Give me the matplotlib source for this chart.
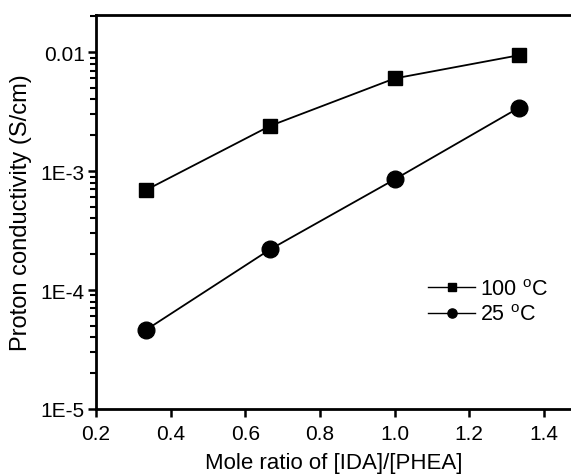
import matplotlib
matplotlib.use("Agg")
import matplotlib.pyplot as plt
from matplotlib.ticker import FixedLocator, FixedFormatter, LogLocator, NullFormatter

plt.rcParams['font.family'] = ['Liberation Sans', 'DejaVu Sans']
plt.rcParams['mathtext.fontset'] = 'custom'
plt.rcParams['mathtext.rm'] = 'Liberation Sans'

mole_ratio = [0.333, 0.667, 1.0, 1.333]
cond_100 = [6.9e-4, 2.4e-3, 6.0e-3, 9.4e-3]
cond_25 = [4.6e-5, 2.2e-4, 8.5e-4, 3.4e-3]

x_ticks = [0.2, 0.4, 0.6, 0.8, 1.0, 1.2, 1.4]
y_ticks = [1e-5, 1e-4, 1e-3, 1e-2]
y_labels = ['1E-5', '1E-4', '1E-3', '0.01']

fig = plt.figure(figsize=(5.71, 4.77), dpi=100)
ax = fig.add_axes([96 / 571, 1 - 410 / 477, (571 - 96) / 571, (410 - 16) / 477])

ax.plot(mole_ratio, cond_100, '-s', color='black', lw=1.3, ms=10, label='100 $^{\\rm o}$C')
ax.plot(mole_ratio, cond_25, '-o', color='black', lw=1.3, ms=12, label='25 $^{\\rm o}$C')

ax.set_yscale('log')
ax.set_xlim(0.2, 1.473)
ax.set_ylim(1e-5, 0.0205)

ax.xaxis.set_major_locator(FixedLocator(x_ticks))
ax.set_xticklabels(['%.1f' % v for v in x_ticks])
ax.yaxis.set_major_locator(FixedLocator(y_ticks))
ax.yaxis.set_major_formatter(FixedFormatter(y_labels))
ax.yaxis.set_minor_locator(LogLocator(base=10, subs=range(2, 10)))
ax.yaxis.set_minor_formatter(NullFormatter())

for side in ['left', 'bottom', 'top']:
    ax.spines[side].set_linewidth(2)
ax.spines['right'].set_visible(False)

ax.tick_params(axis='both', which='major', direction='out', width=1.8, length=6, labelsize=15)
ax.tick_params(axis='y', which='minor', direction='out', width=1.5, length=4)
ax.tick_params(axis='x', which='major', pad=5)
ax.tick_params(axis='y', which='major', pad=2)

ax.set_xlabel('Mole ratio of [IDA]/[PHEA]', fontsize=16, labelpad=6)
ax.set_ylabel('Proton conductivity (S/cm)', fontsize=17, labelpad=6)

leg = ax.legend(loc='upper left', bbox_to_anchor=(428 / 571, 1 - 280 / 477),
                bbox_transform=fig.transFigure, frameon=False,
                fontsize=15.5, handlelength=2.2, handletextpad=0.2, labelspacing=0.2,
                markerscale=0.55, borderaxespad=0, borderpad=0)
for h in leg.get_lines():
    h.set_linewidth(1.0)

fig.savefig('out.png', dpi=100)
